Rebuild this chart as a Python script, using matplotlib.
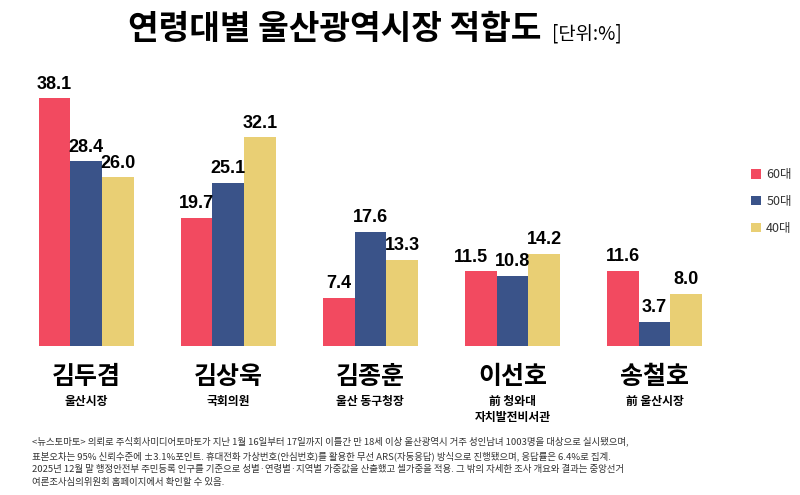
import numpy as np
import matplotlib
matplotlib.use("Agg")
import matplotlib.pyplot as plt

plt.rcParams['font.family'] = ['Noto Sans CJK KR', 'DejaVu Sans']

# 데이터
candidates = ["김두겸", "김상욱", "김종훈", "이선호", "송철호"]
roles = ["울산시장", "국회의원", "울산 동구청장", "前 청와대\n자치발전비서관", "前 울산시장"]
age_groups = ["60대", "50대", "40대"]
v60 = [38.1, 19.7, 7.4, 11.5, 11.6]
v50 = [28.4, 25.1, 17.6, 10.8, 3.7]
v40 = [26.0, 32.1, 13.3, 14.2, 8.0]
colors = ["#F24A60", "#3A5389", "#E9CF74"]

note = ("<뉴스토마토> 의뢰로 주식회사미디어토마토가 지난 1월 16일부터 17일까지 이틀간 만 18세 이상 울산광역시 거주 성인남녀 1003명을 대상으로 실시됐으며,\n"
        "표본오차는 95% 신뢰수준에 ±3.1%포인트. 휴대전화 가상번호(안심번호)를 활용한 무선 ARS(자동응답) 방식으로 진행됐으며, 응답률은 6.4%로 집계.\n"
        "2025년 12월 말 행정안전부 주민등록 인구를 기준으로 성별·연령별·지역별 가중값을 산출했고 셀가중을 적용. 그 밖의 자세한 조사 개요와 결과는 중앙선거\n"
        "여론조사심의위원회 홈페이지에서 확인할 수 있음.")

fig = plt.figure(figsize=(8, 4.95), dpi=100)
ax = fig.add_axes([0.019, 0.301, 0.888, 0.525])

x = np.arange(len(candidates))
w = 0.223
for i, (vals, c) in enumerate(zip([v60, v50, v40], colors)):
    bars = ax.bar(x + (i - 1) * w, vals, w, color=c, label=age_groups[i])
    for j, (b, v) in enumerate(zip(bars, vals)):
        # 이선호 60대 라벨은 겹치지 않게 왼쪽으로 살짝
        dx = -7 if (i == 0 and j == 3) else 0
        ax.annotate(f"{v:.1f}", (b.get_x() + b.get_width() / 2, v),
                    xytext=(dx, 4), textcoords="offset points",
                    ha="center", va="bottom", fontsize=13, fontweight="bold",
                    family=["Liberation Sans"])

ax.set_xlim(-0.5, 4.5)
ax.set_ylim(0, 40)
ax.axis("off")

for xi, name, role in zip(x, candidates, roles):
    ax.text(xi, -4.7, name, ha="center", va="center", fontsize=18, fontweight="bold")
    ax.text(xi, -7.5, role, ha="center", va="top", fontsize=8.5, fontweight="bold",
            linespacing=1.3)

# 범례
leg = fig.legend(loc="upper left", bbox_to_anchor=(0.925, 0.683), frameon=False,
                 fontsize=9, handlelength=0.8, handleheight=0.8, handletextpad=0.4,
                 labelspacing=1.1)
for t in leg.get_texts():
    t.set_color("#333333")

fig.text(0.418, 0.94, "연령대별 울산광역시장 적합도", ha="center", va="center",
         fontsize=24, fontweight="bold")
fig.text(0.69, 0.932, "[단위:%]", ha="left", va="center", fontsize=13.5)

fig.text(0.04, 0.067, note, ha="left", va="center", fontsize=6.8,
         color="#333333", linespacing=1.55)

fig.savefig("out.png", dpi=100)
